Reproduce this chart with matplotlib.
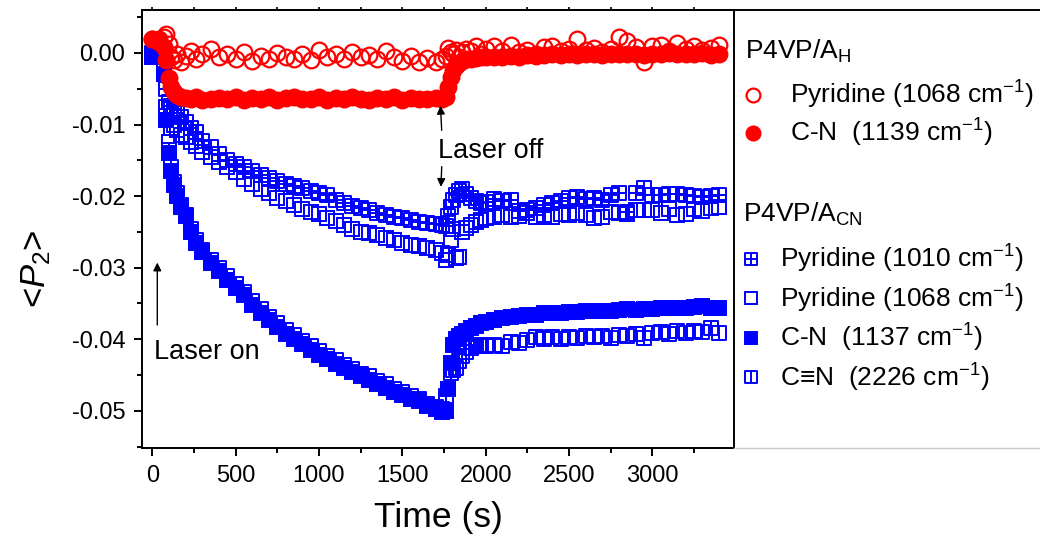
import numpy as np
import matplotlib
matplotlib.use('Agg')
import matplotlib.pyplot as plt
import matplotlib.ticker as ticker
from matplotlib.path import Path

plt.rcParams['font.family'] = 'Liberation Sans'
plt.rcParams['mathtext.fontset'] = 'custom'
plt.rcParams['mathtext.rm'] = 'Liberation Sans'
plt.rcParams['mathtext.it'] = 'Liberation Sans:italic'
plt.rcParams['mathtext.bf'] = 'Liberation Sans:bold'
plt.rcParams['axes.unicode_minus'] = False

# Time axis (s), laser switched on at ~70 s and off at ~1750 s
time = [0, 40, 70, 85, 100, 115, 130, 150, 175, 200, 230, 260, 300,
        350, 400, 450, 500, 550, 600, 650, 700, 750, 800, 850, 900, 950, 1000,
        1050, 1100, 1150, 1200, 1250, 1300, 1350, 1400, 1450, 1500, 1550, 1600, 1650, 1700,
        1740, 1760, 1775, 1790, 1805, 1820, 1840, 1860, 1880, 1910, 1940, 1970, 2000,
        2050, 2100, 2150, 2200, 2250, 2300, 2350, 2400, 2450, 2500, 2550, 2600, 2650, 2700,
        2750, 2800, 2850, 2900, 2950, 3000, 3050, 3100, 3150, 3200, 3250, 3300, 3350, 3400]

# P4VP/A_H
pyr1068_h = [0.0020, 0.0015, 0.0022, 0.0027, 0.0012, -0.0005, -0.0010, -0.0002, -0.0012, -0.0004, 0.0003, -0.0008, -0.0002,
             0.0005, -0.0005, -0.0001, -0.0009, 0.0002, -0.0011, -0.0004, -0.0008, 0.0000, -0.0006, -0.0009, -0.0002, -0.0010, 0.0004,
             -0.0005, -0.0002, -0.0008, 0.0001, -0.0006, -0.0003, -0.0009, 0.0003, -0.0005, -0.0011, -0.0004, -0.0012, -0.0007, -0.0013,
             -0.0009, -0.0004, 0.0007, 0.0002, -0.0002, 0.0004, -0.0006, 0.0001, 0.0005, 0.0003, 0.0009, -0.0001, 0.0006,
             0.0010, 0.0003, 0.0011, 0.0002, 0.0004, -0.0002, 0.0008, 0.0010, 0.0003, 0.0006, 0.0019, 0.0004, 0.0007, 0.0001,
             0.0005, 0.0022, 0.0016, 0.0008, -0.0012, 0.0009, 0.0011, 0.0003, 0.0014, 0.0006, 0.0010, 0.0004, 0.0007, 0.0011]
cn1139_h = [0.0020, 0.0019, 0.0008, -0.0010, -0.0035, -0.0048, -0.0055, -0.0059, -0.0061, -0.0063, -0.0064, -0.0062, -0.0066,
            -0.0064, -0.0063, -0.0065, -0.0062, -0.0066, -0.0063, -0.0064, -0.0062, -0.0066, -0.0063, -0.0061, -0.0065, -0.0064, -0.0062,
            -0.0066, -0.0063, -0.0065, -0.0061, -0.0064, -0.0066, -0.0063, -0.0065, -0.0062, -0.0066, -0.0063, -0.0065, -0.0064, -0.0063,
            -0.0064, -0.0062, -0.0048, -0.0033, -0.0024, -0.0018, -0.0014, -0.0011, -0.0009, -0.0008, -0.0007, -0.0006, -0.0006,
            -0.0005, -0.0005, -0.0004, -0.0005, -0.0003, -0.0004, -0.0003, -0.0002, -0.0003, -0.0002, -0.0003, -0.0002, -0.0001, -0.0003,
            -0.0002, -0.0001, -0.0002, -0.0001, -0.0003, -0.0001, -0.0002, 0.0000, -0.0002, -0.0001, -0.0002, 0.0000, -0.0003, -0.0001]

# P4VP/A_CN
pyr1010_cn = [0.0000, -0.0003, -0.0015, -0.0050, -0.0068, -0.0074, -0.0079, -0.0084, -0.0090, -0.0097, -0.0105, -0.0111, -0.0123,
              -0.0132, -0.0141, -0.0150, -0.0155, -0.0160, -0.0165, -0.0170, -0.0175, -0.0179, -0.0183, -0.0186, -0.0189, -0.0193, -0.0196,
              -0.0199, -0.0206, -0.0210, -0.0214, -0.0217, -0.0220, -0.0223, -0.0226, -0.0229, -0.0231, -0.0233, -0.0236, -0.0237, -0.0239,
              -0.0240, -0.0242, -0.0228, -0.0215, -0.0205, -0.0198, -0.0193, -0.0190, -0.0197, -0.0203, -0.0207, -0.0210, -0.0208,
              -0.0204, -0.0207, -0.0205, -0.0221, -0.0220, -0.0216, -0.0212, -0.0209, -0.0207, -0.0203, -0.0201, -0.0204, -0.0202, -0.0205,
              -0.0199, -0.0196, -0.0222, -0.0195, -0.0189, -0.0199, -0.0198, -0.0197, -0.0197, -0.0199, -0.0200, -0.0201, -0.0200, -0.0198]
pyr1068_cn = [-0.0002, -0.0004, -0.0020, -0.0075, -0.0125, -0.0105, -0.0100, -0.0108, -0.0115, -0.0118, -0.0124, -0.0130, -0.0138,
              -0.0146, -0.0152, -0.0160, -0.0167, -0.0176, -0.0183, -0.0190, -0.0196, -0.0203, -0.0207, -0.0213, -0.0218, -0.0222, -0.0225,
              -0.0230, -0.0235, -0.0240, -0.0246, -0.0250, -0.0252, -0.0255, -0.0258, -0.0262, -0.0265, -0.0268, -0.0270, -0.0273, -0.0275,
              -0.0280, -0.0289, -0.0283, -0.0262, -0.0246, -0.0287, -0.0285, -0.0250, -0.0244, -0.0240, -0.0236, -0.0233, -0.0231,
              -0.0229, -0.0226, -0.0229, -0.0228, -0.0224, -0.0229, -0.0226, -0.0229, -0.0225, -0.0226, -0.0224, -0.0226, -0.0231, -0.0229,
              -0.0222, -0.0224, -0.0225, -0.0219, -0.0220, -0.0219, -0.0223, -0.0218, -0.0226, -0.0225, -0.0218, -0.0221, -0.0216, -0.0215]
cn1137_cn = [-0.0005, -0.0006, -0.0030, -0.0094, -0.0140, -0.0165, -0.0185, -0.0200, -0.0215, -0.0228, -0.0250, -0.0265, -0.0278,
             -0.0294, -0.0305, -0.0317, -0.0328, -0.0338, -0.0352, -0.0363, -0.0373, -0.0383, -0.0392, -0.0399, -0.0406, -0.0415, -0.0422,
             -0.0428, -0.0434, -0.0440, -0.0446, -0.0452, -0.0457, -0.0463, -0.0468, -0.0474, -0.0478, -0.0483, -0.0487, -0.0493, -0.0498,
             -0.0501, -0.0500, -0.0470, -0.0433, -0.0408, -0.0400, -0.0396, -0.0392, -0.0389, -0.0385, -0.0381, -0.0378, -0.0376,
             -0.0373, -0.0371, -0.0369, -0.0368, -0.0366, -0.0366, -0.0364, -0.0364, -0.0363, -0.0362, -0.0362, -0.0361, -0.0360, -0.0360,
             -0.0360, -0.0359, -0.0358, -0.0359, -0.0358, -0.0358, -0.0357, -0.0357, -0.0356, -0.0356, -0.0355, -0.0354, -0.0356, -0.0357]
ctn2226_cn = [-0.0003, -0.0004, -0.0025, -0.0088, -0.0135, -0.0160, -0.0180, -0.0196, -0.0212, -0.0226, -0.0246, -0.0262, -0.0275,
              -0.0290, -0.0301, -0.0312, -0.0323, -0.0334, -0.0346, -0.0358, -0.0369, -0.0378, -0.0387, -0.0394, -0.0402, -0.0410, -0.0416,
              -0.0424, -0.0429, -0.0436, -0.0441, -0.0448, -0.0452, -0.0459, -0.0463, -0.0470, -0.0474, -0.0480, -0.0484, -0.0490, -0.0495,
              -0.0498, -0.0480, -0.0470, -0.0447, -0.0443, -0.0440, -0.0430, -0.0424, -0.0418, -0.0412, -0.0410, -0.0408, -0.0410,
              -0.0408, -0.0410, -0.0404, -0.0405, -0.0401, -0.0397, -0.0399, -0.0397, -0.0400, -0.0397, -0.0398, -0.0396, -0.0397, -0.0395,
              -0.0398, -0.0394, -0.0396, -0.0393, -0.0398, -0.0391, -0.0390, -0.0393, -0.0389, -0.0391, -0.0388, -0.0390, -0.0384, -0.0391]

# Origin-style hollow squares: with a cross, and with a single vertical bar
_sq = [(-0.5, -0.5), (0.5, -0.5), (0.5, 0.5), (-0.5, 0.5), (-0.5, -0.5)]
_sq_codes = [Path.MOVETO, Path.LINETO, Path.LINETO, Path.LINETO, Path.CLOSEPOLY]
box_plus = Path(_sq + [(0, -0.5), (0, 0.5), (-0.5, 0), (0.5, 0)],
                _sq_codes + [Path.MOVETO, Path.LINETO, Path.MOVETO, Path.LINETO])
box_bar = Path(_sq + [(0, -0.5), (0, 0.5)],
               _sq_codes + [Path.MOVETO, Path.LINETO])

red = '#ff0000'
blue = '#0000ff'

fig = plt.figure(figsize=(10.4, 5.37), dpi=100)
ax = fig.add_axes([0.1365, 0.1657, 0.5693, 0.8157])

sq_kw = dict(ls='none', ms=10.3, mew=1.4, mec=blue)
l_ctn = ax.plot(time, ctn2226_cn, marker=box_bar, mfc='none', zorder=2.0,
                label='C\u2261N  (2226 cm$^{-1}$)', **sq_kw)[0]
l_cn = ax.plot(time, cn1137_cn, marker='s', mfc=blue, zorder=2.1,
               label='C-N  (1137 cm$^{-1}$)', **sq_kw)[0]
l_p68 = ax.plot(time, pyr1068_cn, marker='s', mfc='none', zorder=2.2,
                label='Pyridine (1068 cm$^{-1}$)', **sq_kw)[0]
l_p10 = ax.plot(time, pyr1010_cn, marker=box_plus, mfc='none', zorder=2.3,
                label='Pyridine (1010 cm$^{-1}$)', **sq_kw)[0]

ci_kw = dict(ls='none', marker='o', ms=11.3, mew=1.6, mec=red)
l_ph = ax.plot(time, pyr1068_h, mfc='none', zorder=2.5,
               label='Pyridine (1068 cm$^{-1}$)', **ci_kw)[0]
l_ch = ax.plot(time, cn1139_h, mfc=red, zorder=2.6,
               label='C-N  (1139 cm$^{-1}$)', **ci_kw)[0]

ax.set_xlim(-62, 3490)
ax.set_ylim(-0.0552, 0.006)

ax.xaxis.set_major_locator(ticker.MultipleLocator(500))
ax.xaxis.set_minor_locator(ticker.MultipleLocator(250))
ax.yaxis.set_major_locator(ticker.MultipleLocator(0.01))
ax.yaxis.set_minor_locator(ticker.MultipleLocator(0.005))
ax.yaxis.set_major_formatter(ticker.FuncFormatter(
    lambda v, pos: ('%.2f' % v).replace('-0.00', '0.00')))
ax.tick_params(which='major', direction='out', length=6, width=1.4, labelsize=17, pad=6)
ax.tick_params(which='minor', direction='out', length=3.5, width=1.4)
for sp in ax.spines.values():
    sp.set_linewidth(1.4)

# small ticks along the top edge
top = ax.secondary_xaxis('top')
top.xaxis.set_major_locator(ticker.MultipleLocator(250))
top.tick_params(direction='out', length=2.5, width=1.2, labeltop=False)
top.spines['top'].set_linewidth(1.4)

ax.set_xlabel('Time (s)', fontsize=25.5)
ax.xaxis.set_label_coords(0.5, -0.122)
ax.set_ylabel('<$\\mathit{P}_{\\mathrm{2}}$>', fontsize=25)
ax.yaxis.set_label_coords(-0.15, 0.41)

# laser on / off markers
ax.annotate('', xy=(30, -0.0289), xytext=(30, -0.0384),
            arrowprops=dict(arrowstyle='-|>', color='black', lw=1, mutation_scale=12))
ax.text(12, -0.0427, 'Laser on', fontsize=19.5, va='baseline', ha='left')
ax.annotate('', xy=(1728, -0.0070), xytext=(1737, -0.0112),
            arrowprops=dict(arrowstyle='-|>', color='black', lw=1, mutation_scale=12))
ax.annotate('', xy=(1731, -0.0191), xytext=(1737, -0.0155),
            arrowprops=dict(arrowstyle='-|>', color='black', lw=1, mutation_scale=12))
ax.text(1713, -0.0147, 'Laser off', fontsize=19.5, va='baseline', ha='left')

# legend panel to the right of the plot
lax = fig.add_axes([0.7058, 0.1657, 0.30, 0.8157])
lax.set_xticks([])
lax.set_yticks([])
lax.patch.set_alpha(0)
for s in ['left', 'right']:
    lax.spines[s].set_visible(False)
lax.spines['top'].set_linewidth(1.4)
lax.spines['bottom'].set_color('#c8c8c8')
lax.spines['bottom'].set_linewidth(1.0)

fig.text(745 / 1040, 1 - 59 / 537, 'P4VP/A$_{\\mathrm{H}}$', fontsize=19, va='baseline')
fig.text(743 / 1040, 1 - 222 / 537, 'P4VP/A$_{\\mathrm{CN}}$', fontsize=19, va='baseline')

leg_kw = dict(loc='upper left', frameon=False, fontsize=19,
              borderpad=0, borderaxespad=0, labelspacing=0.22,
              handlelength=0.6, handletextpad=1.1, markerscale=0.88)
leg1 = lax.legend(handles=[l_ph, l_ch], bbox_to_anchor=(745 / 1040, 1 - 79 / 537),
                  bbox_transform=fig.transFigure, **leg_kw)
lax.add_artist(leg1)
leg_kw['handletextpad'] = 0.8
leg_kw['labelspacing'] = 0.28
lax.legend(handles=[l_p10, l_p68, l_cn, l_ctn], bbox_to_anchor=(743 / 1040, 1 - 243 / 537),
           bbox_transform=fig.transFigure, **leg_kw)

plt.savefig('out.png', dpi=100)
